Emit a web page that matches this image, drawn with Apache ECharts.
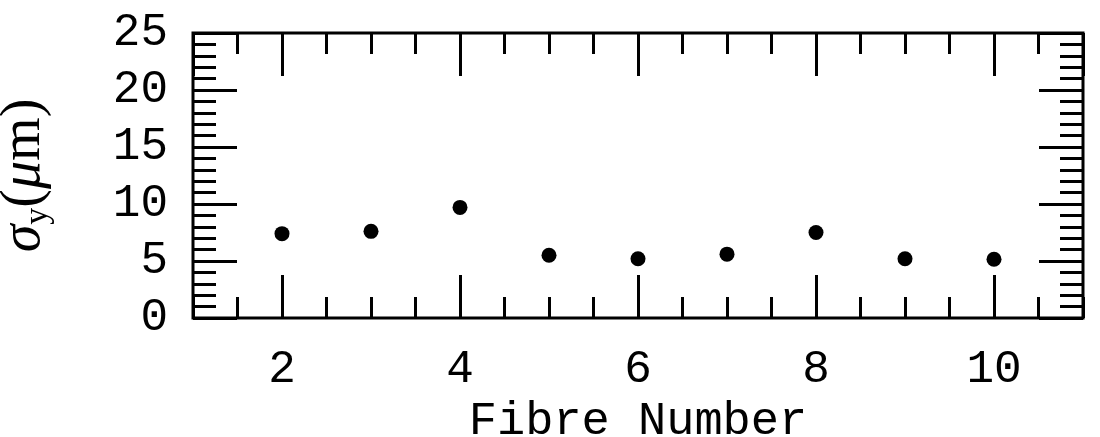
<!DOCTYPE html>
<html>
<head>
<meta charset="utf-8">
<script src="https://cdn.jsdelivr.net/npm/echarts@6/dist/echarts.min.js"></script>
<style>html,body{margin:0;padding:0;background:#fff}#c{width:1100px;height:437px}</style>
</head>
<body>
<div id="c"></div>
<script>
const fibreNumber = [2, 3, 4, 5, 6, 7, 8, 9, 10];
const sigmaY = [7.4, 7.6, 9.7, 5.5, 5.2, 5.6, 7.5, 5.2, 5.15];
const xLabels = ['2', '4', '6', '8', '10'];
const yLabels = ['0', '5', '10', '15', '20', '25'];

const MONO = '"Liberation Mono", "DejaVu Sans Mono", monospace';
const SERIF = '"Liberation Serif", "DejaVu Serif", serif';
const black = '#000';

const chart = echarts.init(document.getElementById('c'), null, {renderer: 'canvas'});

function minorX(pos) {
  return {
    type: 'value', position: pos, min: 1, max: 11, interval: 0.5,
    axisLine: {show: false}, splitLine: {show: false},
    axisTick: {show: true, inside: true, length: 21, lineStyle: {color: black, width: 3}},
    axisLabel: {show: false}
  };
}
function majorX(pos, labels) {
  return {
    type: 'value', position: pos, min: 1, max: 11, splitNumber: 5,
    axisLine: {show: false}, splitLine: {show: false},
    axisTick: {show: true, inside: true, length: 43, lineStyle: {color: black, width: 3}},
    axisLabel: labels ? {
      show: true, margin: 29, fontFamily: MONO, fontSize: 46, color: black,
      showMinLabel: false, showMaxLabel: false,
      formatter: v => xLabels.includes(String(v)) ? String(v) : ''
    } : {show: false}
  };
}
function yAx(pos, labels) {
  return {
    type: 'value', position: pos, min: 0, max: 25, interval: 5,
    axisLine: {show: false}, splitLine: {show: false},
    axisTick: {show: true, inside: true, length: 44, lineStyle: {color: black, width: 3}},
    minorTick: {show: true, splitNumber: 5, length: 23, lineStyle: {color: black, width: 3}},
    minorSplitLine: {show: false},
    axisLabel: labels ? {
      show: true, margin: 25, fontFamily: MONO, fontSize: 46, color: black,
      formatter: v => yLabels.includes(String(v)) ? String(v) : ''
    } : {show: false}
  };
}

const xMain = majorX('bottom', true);
xMain.name = 'Fibre Number';
xMain.nameLocation = 'middle';
xMain.nameGap = 66;
xMain.nameTextStyle = {fontFamily: MONO, fontSize: 47, color: black};

const yMain = yAx('left', true);
yMain.name = '{s|σ}{sub|y}{r|(}{s|μ}{r|m)}';
yMain.nameLocation = 'middle';
yMain.nameRotate = 90;
yMain.nameGap = 138;
yMain.nameTextStyle = {
  color: black,
  rich: {
    s: {fontFamily: SERIF, fontStyle: 'italic', fontSize: 56, lineHeight: 62, verticalAlign: 'middle', color: black},
    r: {fontFamily: SERIF, fontSize: 56, lineHeight: 62, verticalAlign: 'middle', color: black},
    sub: {fontFamily: SERIF, fontSize: 34, lineHeight: 34, verticalAlign: 'bottom', color: black}
  }
};

chart.setOption({
  animation: false,
  backgroundColor: '#fff',
  grid: {left: 193, right: 17, top: 33, bottom: 119, outerBoundsMode: 'none', containLabel: false,
    show: true, borderColor: black, borderWidth: 3, backgroundColor: 'transparent'},
  xAxis: [xMain, minorX('bottom'), majorX('top', false), minorX('top')],
  yAxis: [yMain, yAx('right', false)],
  series: [{
    type: 'scatter', xAxisIndex: 0, yAxisIndex: 0,
    symbol: 'circle', symbolSize: 15,
    itemStyle: {color: black, opacity: 1},
    data: fibreNumber.map((x, i) => [x, sigmaY[i]])
  }]
});
</script>
</body>
</html>
